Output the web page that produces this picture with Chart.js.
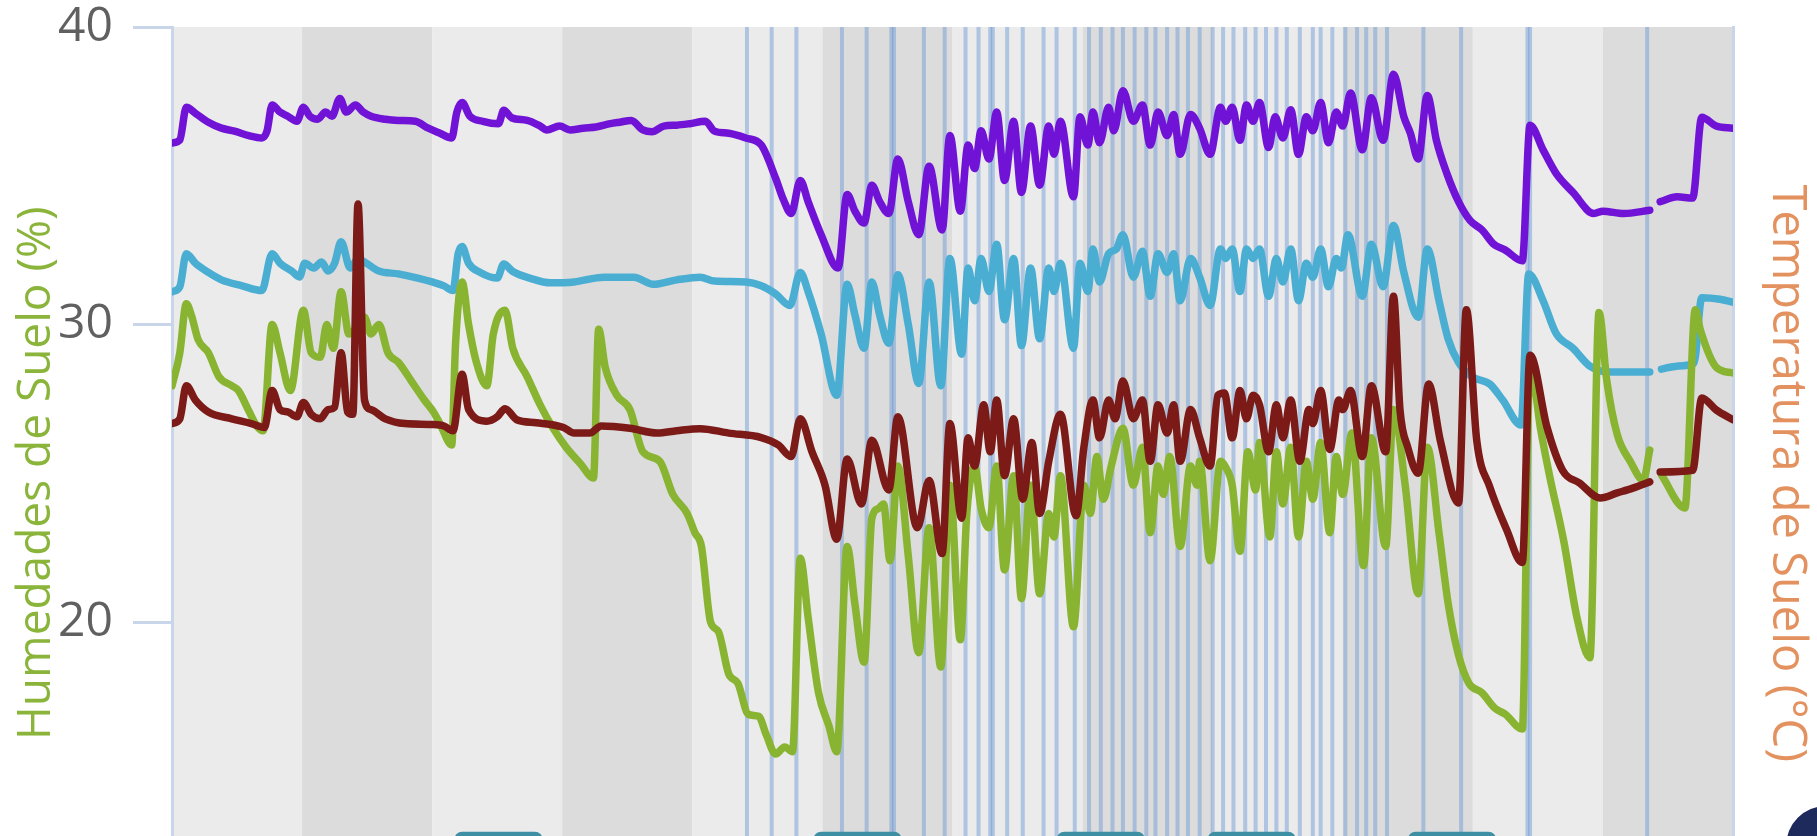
<!DOCTYPE html>
<html>
<head>
<meta charset="utf-8">
<script src="https://cdn.jsdelivr.net/npm/chart.js@4.4.1/dist/chart.umd.min.js"></script>
<style>
  html, body { margin: 0; padding: 0; background: #ffffff; overflow: hidden; width: 1817px; height: 836px; }
  #marco { position: absolute; left: 0; top: 0; width: 1817px; height: 1000px; }
  #boton { position: absolute; left: 1786px; top: 806px; width: 80px; height: 80px; border-radius: 50%; background: #1f2a5c; }
</style>
</head>
<body>
<div id="marco"><canvas id="grafico" width="1817" height="1000"></canvas></div>
<div id="boton"></div>
<script>
// Eje X en días desde el inicio del registro (12 días)
const diasRegistro = [0, 1, 2, 3, 4, 5, 6, 7, 8, 9, 10, 11];

// Eventos de riego (día)
const riegos = [4.42, 4.61, 4.80, 5.15, 5.34, 5.53, 5.55, 5.78, 5.94, 6.10, 6.20, 6.29, 6.31, 6.42, 6.54,
  6.70, 6.80, 6.94, 7.05, 7.14, 7.23, 7.31, 7.40, 7.49, 7.56, 7.65, 7.73, 7.81, 7.90, 8.00, 8.08,
  8.16, 8.25, 8.33, 8.41, 8.49, 8.57, 8.67, 8.77, 8.83, 8.92, 9.02, 9.11, 9.18, 9.25, 9.34,
  9.62, 9.91, 10.42, 10.44, 11.34];

// Humedad de suelo (%) — pares [día, valor]
const humedadMorada = [[0.00,36.1],[0.06,36.2],[0.11,37.3],[0.18,37.1],[0.28,36.8],[0.38,36.6],[0.48,36.5],[0.59,36.35],[0.69,36.27],[0.73,36.5],[0.77,37.38],[0.83,37.14],[0.89,37.0],[0.96,36.83],[1.01,37.3],[1.06,37.0],[1.12,36.9],[1.18,37.14],[1.23,37.0],[1.29,37.6],[1.34,37.14],[1.41,37.38],[1.47,37.14],[1.53,37.0],[1.64,36.9],[1.74,36.86],[1.87,36.83],[1.97,36.6],
  [2.06,36.43],[2.15,36.27],[2.19,37.14],[2.23,37.46],[2.29,37.0],[2.39,36.83],[2.51,36.75],[2.55,37.2],[2.61,36.95],[2.73,36.86],[2.83,36.67],[2.88,36.54],[2.98,36.67],[3.06,36.54],[3.16,36.6],[3.26,36.64],[3.37,36.75],[3.44,36.8],[3.53,36.86],[3.62,36.54],[3.69,36.48],[3.78,36.67],[3.88,36.7],[3.98,36.75],
  [4.10,36.83],[4.17,36.5],[4.28,36.43],[4.41,36.27],[4.53,36.03],[4.64,34.92],[4.70,34.2],[4.76,33.73],[4.83,34.84],[4.89,34.13],[4.99,33.02],[5.12,31.9],[5.19,34.37],[5.25,33.81],[5.32,33.41],[5.38,34.68],[5.44,34.13],[5.51,33.73],[5.58,35.56],[5.66,34.13],[5.74,33.02],[5.82,35.32],[5.92,33.18],[5.98,36.35],[6.06,33.81],
  [6.12,36.03],[6.17,35.24],[6.22,36.51],[6.28,35.56],[6.34,37.14],[6.40,34.84],[6.47,36.83],[6.53,34.44],[6.60,36.67],[6.67,34.68],[6.74,36.67],[6.78,35.72],[6.83,36.83],[6.93,34.29],[6.98,36.98],[7.04,36.03],[7.08,37.14],[7.13,36.11],[7.20,37.3],[7.24,36.51],[7.31,37.86],[7.39,36.83],[7.46,37.38],[7.52,36.03],[7.58,37.14],[7.65,36.35],[7.70,37.06],[7.75,35.72],[7.83,37.06],[7.90,36.59],[7.98,35.72],[8.06,37.3],
  [8.10,36.83],[8.15,37.3],[8.21,36.19],[8.26,37.38],[8.31,36.83],[8.36,37.46],[8.43,35.95],[8.48,36.98],[8.54,36.27],[8.60,37.22],[8.66,35.72],[8.72,36.98],[8.77,36.51],[8.83,37.46],[8.89,36.11],[8.95,37.14],[9.00,36.67],[9.06,37.78],[9.15,35.87],[9.22,37.62],[9.31,36.19],[9.39,38.41],[9.47,36.98],[9.52,36.43],[9.58,35.56],[9.65,37.7],[9.72,36.19],[9.80,35.08],[9.89,34.13],[9.98,33.49],[10.07,33.18],[10.16,32.7],[10.25,32.5],[10.38,32.14],
  [10.44,36.7],[10.54,35.87],[10.64,35.08],[10.77,34.44],[10.93,33.73],[11.00,33.81],[11.16,33.73],[11.36,33.84],[11.40,null],[11.44,34.13],[11.57,34.29],[11.69,34.25],[11.76,36.97],[11.87,36.67],[12.00,36.6]];

const humedadCeleste = [[0.00,31.1],[0.06,31.27],[0.11,32.38],[0.18,32.06],[0.28,31.75],[0.38,31.5],[0.54,31.3],[0.69,31.14],[0.77,32.38],[0.83,32.06],[0.92,31.8],[0.98,31.6],[1.02,32.06],[1.09,31.9],[1.15,32.1],[1.20,31.8],[1.25,32.06],[1.30,32.78],[1.37,31.9],[1.43,32.2],[1.48,32.1],[1.59,31.8],[1.74,31.7],[1.89,31.56],[2.00,31.43],
  [2.09,31.3],[2.16,31.14],[2.20,32.38],[2.23,32.62],[2.28,32.06],[2.37,31.75],[2.50,31.56],[2.55,32.03],[2.62,31.78],[2.75,31.56],[2.91,31.4],[3.09,31.43],[3.32,31.59],[3.55,31.59],[3.70,31.35],[3.88,31.5],[4.06,31.59],[4.17,31.46],[4.41,31.43],[4.53,31.3],[4.64,31.03],[4.75,30.64],[4.83,31.75],[4.89,31.11],[4.99,29.68],[5.11,27.62],[5.19,31.35],[5.25,30.32],[5.32,29.2],[5.38,31.43],[5.44,30.32],[5.51,29.37],[5.58,31.67],[5.66,30.0],[5.74,28.02],[5.82,31.43],[5.91,27.94],[5.98,32.22],[6.07,29.0],
  [6.12,31.9],[6.17,30.8],[6.22,32.22],[6.28,31.11],[6.34,32.7],[6.40,30.16],[6.47,32.22],[6.53,29.29],[6.60,31.9],[6.67,29.52],[6.74,31.9],[6.78,31.11],[6.83,32.06],[6.93,29.2],[6.98,32.06],[7.04,31.11],[7.08,32.54],[7.13,31.43],[7.20,32.38],[7.26,32.54],[7.31,33.02],[7.39,31.59],[7.46,32.46],[7.52,30.95],[7.58,32.38],[7.65,31.75],[7.70,32.38],[7.75,30.8],[7.83,32.22],[7.90,31.59],[7.98,30.64],[8.06,32.54],
  [8.10,32.22],[8.15,32.54],[8.21,31.11],[8.26,32.54],[8.31,32.22],[8.36,32.54],[8.43,30.95],[8.49,32.22],[8.54,31.43],[8.60,32.54],[8.66,30.8],[8.72,32.06],[8.77,31.59],[8.83,32.54],[8.89,31.27],[8.95,32.22],[8.99,31.9],[9.04,33.02],[9.15,30.95],[9.22,32.7],[9.31,31.27],[9.39,33.33],[9.47,31.75],[9.58,30.24],[9.65,32.54],[9.74,30.8],[9.81,29.52],[9.89,28.73],[9.99,28.25],[10.13,28.0],[10.23,27.46],[10.37,26.62],
  [10.43,31.7],[10.54,30.8],[10.64,29.7],[10.77,29.2],[10.90,28.6],[11.05,28.4],[11.36,28.4],[11.40,null],[11.45,28.5],[11.57,28.6],[11.70,28.7],[11.76,30.9],[11.90,30.85],[12.00,30.75]];

const humedadVerde = [[0.00,27.94],[0.06,29.05],[0.11,30.7],[0.15,30.3],[0.20,29.5],[0.28,29.05],[0.36,28.25],[0.46,27.94],[0.51,27.78],[0.59,27.1],[0.65,26.6],[0.70,26.43],[0.77,30.0],[0.83,29.05],[0.91,27.78],[1.01,30.48],[1.07,29.05],[1.14,28.9],[1.19,30.0],[1.24,29.2],[1.30,31.1],[1.36,29.68],[1.42,29.9],[1.48,30.24],[1.53,29.68],[1.59,30.0],[1.66,29.05],[1.74,28.73],[1.84,28.1],[1.94,27.46],[2.01,27.06],
  [2.06,26.67],[2.15,25.95],[2.18,29.37],[2.23,31.43],[2.28,30.0],[2.34,28.73],[2.42,27.94],[2.47,29.68],[2.56,30.48],[2.62,29.2],[2.73,28.25],[2.83,27.3],[2.93,26.51],[3.03,25.87],[3.14,25.32],[3.24,24.84],[3.28,29.84],[3.33,28.57],[3.42,27.62],[3.52,27.14],[3.62,25.72],[3.75,25.4],[3.85,24.29],[3.96,23.65],[4.02,23.0],
  [4.07,22.54],[4.14,20.0],[4.20,19.68],[4.28,18.25],[4.35,17.94],[4.43,16.9],[4.51,16.83],[4.57,16.19],[4.64,15.56],[4.71,15.8],[4.77,15.64],[4.83,22.14],[4.89,20.16],[4.97,17.62],[5.05,16.51],[5.11,15.64],[5.19,22.54],[5.25,20.6],[5.32,18.65],[5.38,23.49],[5.43,23.81],[5.47,23.97],[5.52,22.06],[5.58,25.24],[5.66,22.22],[5.74,18.97],[5.82,23.17],[5.91,18.49],[5.98,24.6],[6.06,19.4],
  [6.11,23.65],[6.17,25.24],[6.22,23.81],[6.28,23.17],[6.34,25.24],[6.40,21.75],[6.47,24.92],[6.53,20.79],[6.60,24.6],[6.67,20.95],[6.74,23.65],[6.78,22.86],[6.83,24.92],[6.93,19.84],[7.01,24.6],[7.06,23.65],[7.11,25.56],[7.16,24.13],[7.22,25.24],[7.31,26.51],[7.39,24.6],[7.46,25.87],[7.52,23.0],[7.58,25.24],[7.62,24.29],[7.67,25.56],[7.75,22.54],[7.83,25.24],[7.88,24.6],[7.90,25.4],[7.98,22.06],[8.06,25.4],
  [8.10,25.2],[8.15,24.6],[8.21,22.38],[8.27,25.72],[8.33,24.44],[8.36,26.03],[8.44,22.86],[8.49,25.72],[8.54,23.97],[8.60,25.87],[8.66,22.86],[8.72,25.4],[8.77,24.13],[8.83,26.03],[8.90,23.0],[8.95,25.56],[9.00,24.29],[9.07,26.35],[9.16,21.9],[9.22,26.19],[9.33,22.54],[9.39,27.14],[9.48,24.6],[9.58,20.95],[9.65,25.87],[9.74,23.0],[9.81,20.63],[9.89,18.89],[9.97,17.94],[10.07,17.62],[10.17,17.1],[10.25,16.9],[10.38,16.4],
  [10.44,28.73],[10.52,26.51],[10.59,24.92],[10.70,22.7],[10.80,20.16],[10.90,18.8],[10.97,30.4],[11.03,28.1],[11.11,26.3],[11.21,25.4],[11.31,24.77],[11.36,25.78],[11.40,null],[11.45,24.94],[11.63,23.83],[11.71,30.5],[11.75,29.8],[11.87,28.57],[12.00,28.37]];

const humedadGranate = [[0.00,26.67],[0.06,26.83],[0.11,27.94],[0.18,27.46],[0.28,27.06],[0.46,26.83],[0.61,26.67],[0.71,26.54],[0.77,27.78],[0.83,27.14],[0.89,27.06],[0.96,26.9],[1.01,27.38],[1.07,26.98],[1.14,26.83],[1.20,27.14],[1.25,27.22],[1.30,29.05],[1.35,27.06],[1.39,26.98],[1.43,34.05],[1.48,27.46],[1.53,27.14],[1.64,26.83],[1.79,26.67],[2.00,26.64],
  [2.09,26.59],[2.16,26.43],[2.23,28.33],[2.28,27.14],[2.42,26.75],[2.50,26.9],[2.56,27.17],[2.65,26.8],[2.80,26.7],[3.01,26.54],[3.09,26.35],[3.21,26.35],[3.30,26.59],[3.52,26.51],[3.73,26.35],[3.88,26.43],[4.06,26.5],[4.28,26.35],[4.53,26.2],[4.66,25.95],[4.76,25.56],[4.83,26.83],[4.92,25.72],[5.02,24.6],[5.11,22.78],[5.19,25.48],[5.30,23.97],[5.38,26.11],[5.51,24.44],[5.58,26.9],[5.73,23.17],[5.82,24.76],[5.92,22.3],[5.98,26.67],[6.07,23.49],
  [6.12,26.19],[6.17,25.24],[6.24,27.3],[6.29,25.72],[6.34,27.46],[6.40,24.92],[6.47,26.83],[6.54,24.13],[6.61,26.03],[6.67,23.65],[6.74,25.4],[6.83,26.98],[6.95,23.57],[7.01,25.87],[7.08,27.46],[7.13,26.19],[7.20,27.46],[7.25,26.83],[7.31,28.1],[7.39,26.83],[7.46,27.46],[7.52,25.4],[7.58,27.3],[7.65,26.35],[7.70,27.3],[7.75,25.4],[7.83,27.14],[7.90,26.19],[7.98,25.24],[8.04,27.62],
  [8.09,27.7],[8.15,26.19],[8.21,27.78],[8.26,26.83],[8.31,27.62],[8.36,27.3],[8.43,25.72],[8.49,27.3],[8.54,26.19],[8.60,27.46],[8.67,25.4],[8.74,27.14],[8.77,26.67],[8.83,27.78],[8.90,25.8],[8.97,27.46],[9.00,27.14],[9.06,27.78],[9.15,25.56],[9.22,27.94],[9.33,25.72],[9.39,30.95],[9.44,27.13],[9.50,25.87],[9.58,25.0],[9.66,28.0],[9.75,26.1],[9.89,24.0],[9.95,30.5],[10.03,26.1],[10.13,24.54],[10.26,23.1],[10.38,22.0],
  [10.44,28.97],[10.57,26.55],[10.69,25.1],[10.82,24.67],[10.98,24.17],[11.11,24.34],[11.23,24.5],[11.36,24.71],[11.40,null],[11.44,25.04],[11.69,25.1],[11.76,27.53],[11.87,27.13],[12.00,26.8]];

// Barras inferiores: [día central, valor superior]
const barrasInferiores = [[2.51,12.94],[5.27,12.94],[7.14,12.94],[8.30,12.94],[9.84,12.94]];

// Marcas del eje de humedad
const marcasHumedad = [10, 20, 30, 40];

const aPuntos = arr => arr.map(([d, v]) => ({ x: d, y: v }));

// Franjas diarias y líneas de riego dibujadas con las escalas del gráfico
const fondoDias = {
  id: 'fondoDias',
  beforeDraw(chart) {
    const { ctx, chartArea: a, scales: { x } } = chart;
    ctx.save();
    ctx.beginPath();
    ctx.rect(a.left, a.top, a.right - a.left, a.bottom - a.top);
    ctx.clip();
    diasRegistro.forEach((d, i) => {
      const x0 = x.getPixelForValue(d);
      const x1 = x.getPixelForValue(d + 1);
      ctx.fillStyle = i % 2 === 0 ? '#ebebeb' : '#dcdcdc';
      ctx.fillRect(x0, a.top, x1 - x0, a.bottom - a.top);
    });
    ctx.strokeStyle = 'rgba(100,148,210,0.45)';
    ctx.lineWidth = 4;
    riegos.forEach(d => {
      const px = x.getPixelForValue(d);
      ctx.beginPath();
      ctx.moveTo(px, a.top);
      ctx.lineTo(px, a.bottom);
      ctx.stroke();
    });
    ctx.restore();
  }
};

const serie = (label, datos, color) => ({
  label, data: aPuntos(datos), borderColor: color, backgroundColor: color,
  borderWidth: 7.5, pointRadius: 0, cubicInterpolationMode: 'monotone', spanGaps: false,
  borderJoinStyle: 'round', borderCapStyle: 'round', yAxisID: 'y'
});

// Sin relleno extra por las etiquetas: el área del gráfico empieza en el borde fijado
const sinRelleno = s => { s.paddingTop = 0; s.paddingBottom = 0; };

new Chart(document.getElementById('grafico'), {
  type: 'line',
  data: {
    datasets: [
      serie('Humedad 40 cm', humedadGranate, '#7b1a17'),
      serie('Humedad 10 cm', humedadMorada, '#7013d6'),
      serie('Humedad 30 cm', humedadVerde, '#88b432'),
      serie('Humedad 20 cm', humedadCeleste, '#4aadd2'),
      {
        type: 'bar', label: 'Riego', data: barrasInferiores.map(([d, v]) => ({ x: d, y: [10, v] })),
        backgroundColor: '#3d8fa4', barThickness: 88, borderRadius: 8, borderSkipped: false, yAxisID: 'y'
      }
    ]
  },
  options: {
    responsive: false,
    animation: false,
    devicePixelRatio: 1,
    layout: { padding: { left: 0, right: 0, top: 27, bottom: 80.5 } },
    plugins: { legend: { display: false }, tooltip: { enabled: false } },
    scales: {
      x: { type: 'linear', min: 0, max: 12, display: false, offset: false },
      y: {
        position: 'left', min: 10, max: 40,
        afterFit(s) { s.width = 172; sinRelleno(s); },
        afterBuildTicks(s) { s.ticks = marcasHumedad.map(v => ({ value: v })); },
        ticks: { color: '#606060', padding: 20, font: { family: 'Open Sans', size: 48, lineHeight: 1 } },
        grid: { drawOnChartArea: false, drawTicks: true, tickLength: 39, tickColor: '#c9d6ea', tickWidth: 3 },
        border: { display: true, color: '#c9d6ea', width: 3 },
        title: { display: true, text: 'Humedades de Suelo (%)', color: '#8ab43a', padding: { top: 9, bottom: 0 },
          font: { family: 'Open Sans', size: 46 } }
      },
      y2: {
        position: 'right', min: 10, max: 40,
        afterFit(s) { s.width = 84; sinRelleno(s); },
        ticks: { display: false },
        grid: { drawOnChartArea: false, drawTicks: false },
        border: { display: true, color: '#c9d6ea', width: 3 },
        title: { display: true, text: 'Temperatura de Suelo (°C)', color: '#e3915f', padding: { top: 2, bottom: 0 },
          font: { family: 'Open Sans', size: 47 } }
      }
    }
  },
  plugins: [fondoDias]
});
</script>
</body>
</html>
